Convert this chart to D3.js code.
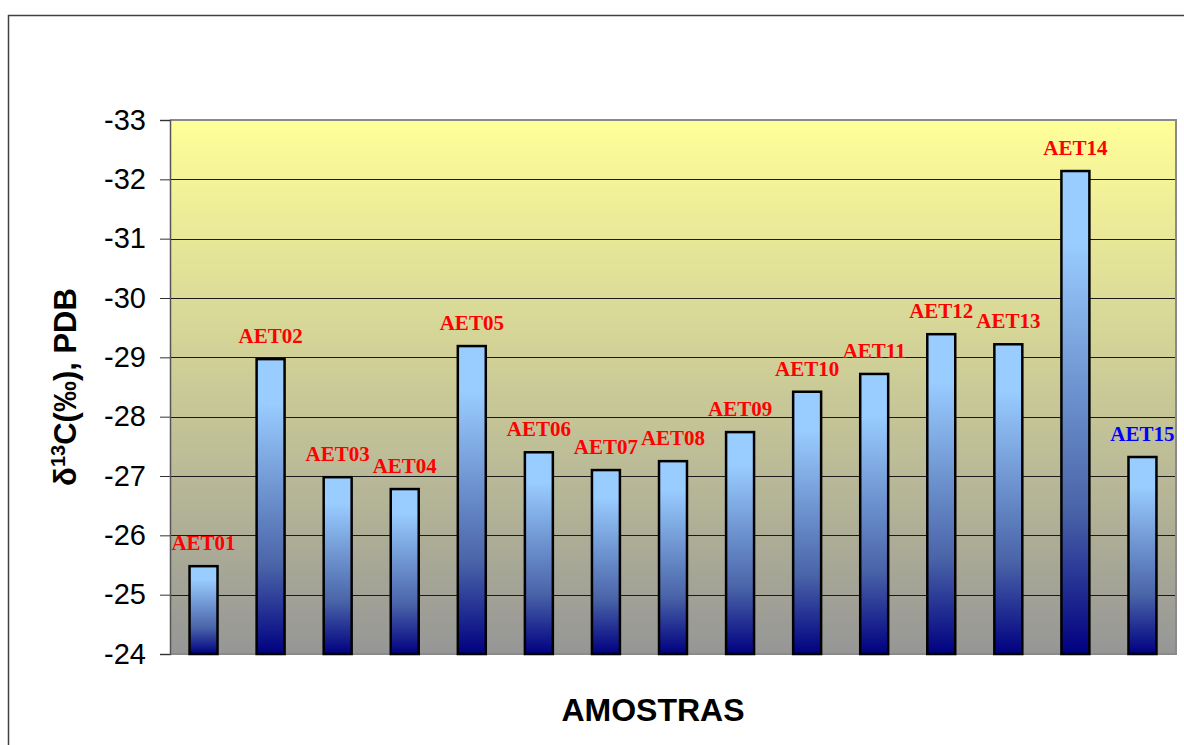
<!DOCTYPE html>
<html><head><meta charset="utf-8">
<script src="https://cdn.jsdelivr.net/npm/d3@7"></script>
<style>html,body{margin:0;padding:0;background:#fff;}svg{display:block;}</style>
</head><body>
<svg id="chart" width="1184" height="745"></svg>
<script>
const categories = ["AET01","AET02","AET03","AET04","AET05","AET06","AET07","AET08","AET09","AET10","AET11","AET12","AET13","AET14","AET15"];
const values = [-25.48,-28.97,-26.98,-26.78,-29.19,-27.40,-27.10,-27.25,-27.74,-28.42,-28.72,-29.39,-29.22,-32.14,-27.32];
const labelColors = ["red","red","red","red","red","red","red","red","red","red","red","red","red","red","blue"];
const yTicks = [-33,-32,-31,-30,-29,-28,-27,-26,-25,-24];
const xTitle = "AMOSTRAS";

const svg = d3.select("#chart");
const W = 1184, H = 745;
const m = {left:170, top:120, right:1176, bottom:654};

const defs = svg.append("defs");
const bg = defs.append("linearGradient").attr("id","bgGrad").attr("x1",0).attr("y1",0).attr("x2",0).attr("y2",1);
bg.append("stop").attr("offset","0%").attr("stop-color","#FFFF99");
bg.append("stop").attr("offset","100%").attr("stop-color","#969696");
const bgr = defs.append("linearGradient").attr("id","barGrad").attr("x1",0).attr("y1",0).attr("x2",0).attr("y2",1);
bgr.append("stop").attr("offset","0%").attr("stop-color","#99CCFF");
bgr.append("stop").attr("offset","15%").attr("stop-color","#99CCFF");
bgr.append("stop").attr("offset","70%").attr("stop-color","#4A64A8");
bgr.append("stop").attr("offset","100%").attr("stop-color","#000080");

// outer frame
svg.append("rect").attr("x",8.5).attr("y",15.5).attr("width",W).attr("height",H)
  .attr("fill","none").attr("stroke","#404040").attr("stroke-width",1.5);

const x = d3.scaleBand().domain(categories).range([m.left, m.right]).paddingInner(0.583).paddingOuter(0.2915);
const y = d3.scaleLinear().domain([-24,-33]).range([m.bottom, m.top]);

// plot background
svg.append("rect").attr("x",m.left).attr("y",m.top).attr("width",m.right-m.left).attr("height",m.bottom-m.top)
  .attr("fill","url(#bgGrad)");

// gridlines
svg.append("g").selectAll("line").data(yTicks.filter(t=>t!==-24 && t!==-33)).join("line")
  .attr("x1",m.left).attr("x2",m.right).attr("y1",d=>Math.round(y(d))+0.5).attr("y2",d=>Math.round(y(d))+0.5)
  .attr("stroke","#1a1a1a").attr("stroke-width",1);

// plot border (gray top/right/bottom)
svg.append("path").attr("d",`M${m.left},${m.top}H${m.right}V${m.bottom}H${m.left}`)
  .attr("fill","none").attr("stroke","#8a8a8a").attr("stroke-width",2);

// y axis
const yAxis = d3.axisLeft(y).tickValues(yTicks).tickSize(10).tickPadding(14).tickFormat(d3.format("d"));
const ga = svg.append("g").attr("transform",`translate(${m.left},0)`).call(yAxis);
ga.select(".domain").attr("stroke","#555").attr("stroke-width",1.5);
ga.selectAll(".tick line").attr("stroke","#333").attr("stroke-width",1);
ga.selectAll(".tick text").attr("font-family","Liberation Sans, Arial, sans-serif").attr("font-size",29).attr("fill","#000")
  .text(d=>String(d).replace("−","-"));

// bars
svg.append("g").selectAll("rect").data(values).join("rect")
  .attr("x",(d,i)=>x(categories[i]))
  .attr("width",x.bandwidth())
  .attr("y",d=>y(d))
  .attr("height",d=>y(-24)-y(d))
  .attr("fill","url(#barGrad)")
  .attr("stroke","#000").attr("stroke-width",2.5);

// labels
svg.append("g").selectAll("text").data(values).join("text")
  .attr("x",(d,i)=>x(categories[i])+x.bandwidth()/2)
  .attr("y",d=>y(d)-16)
  .attr("text-anchor","middle")
  .attr("font-family","Liberation Serif, Times New Roman, serif")
  .attr("font-weight","bold").attr("font-size",21)
  .attr("fill",(d,i)=>labelColors[i])
  .text((d,i)=>categories[i]);

// x title
svg.append("text").attr("x",(m.left+m.right)/2 - 20).attr("y",721)
  .attr("text-anchor","middle").attr("font-family","Liberation Sans, Arial, sans-serif")
  .attr("font-weight","bold").attr("font-size",32).attr("fill","#000").text(xTitle);

// y title
const yt = svg.append("text").attr("transform",`translate(76,${(m.top+m.bottom)/2}) rotate(-90)`)
  .attr("text-anchor","middle").attr("font-family","Liberation Sans, Arial, sans-serif")
  .attr("font-weight","bold").attr("font-size",31).attr("fill","#000");
yt.append("tspan").text("δ");
yt.append("tspan").attr("font-size",20).attr("dy",-11).text("13");
yt.append("tspan").attr("dy",11).text("C(‰), PDB");
</script>
</body></html>
